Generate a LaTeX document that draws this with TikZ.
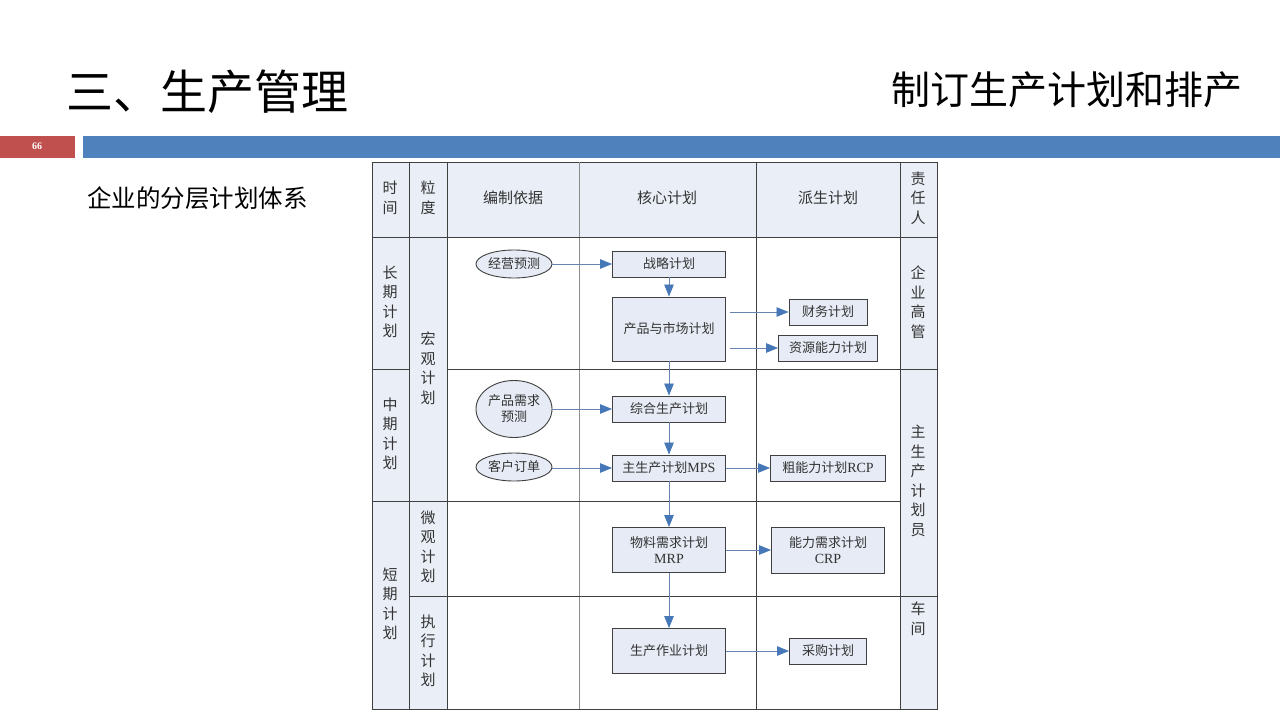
\documentclass[tikz,border=0pt]{standalone}
\usepackage{fontspec}
\setmainfont{Noto Sans CJK SC}
\newfontfamily\latin{Liberation Serif}
\usetikzlibrary{arrows.meta,shapes.geometric}
\definecolor{slidered}{RGB}{192,80,77}
\definecolor{slideblue}{RGB}{79,129,189}
\definecolor{cellfill}{RGB}{234,239,247}
\definecolor{boxfill}{RGB}{230,235,245}
\definecolor{flowline}{RGB}{104,132,176}
\definecolor{flowtip}{RGB}{70,120,184}
\definecolor{gridgray}{RGB}{64,64,64}
\tikzset{
CELL/.style ={draw=none, fill=cellfill},
GRID/.style ={draw=gridgray, line width=0.9pt},
LABEL/.style ={text=black!80, align=center, inner sep=0pt, font=\fontsize{15}{19.5}\selectfont},
PLAN/.style ={draw=gridgray, fill=boxfill, line width=0.9pt, minimum width=113, minimum height=26,
	inner sep=0pt, text=black!80, align=center, font=\fontsize{13}{16}\selectfont},
GUESS/.style ={PLAN, ellipse, minimum width=76, minimum height=28},
FLOW/.style ={draw=flowline, line width=0.8pt, -{Triangle[length=12,width=9.5,color=flowtip]}},
}

\begin{document}
\begin{tikzpicture}[x=1pt,y=-1pt]
	\useasboundingbox (0,0) rectangle (1280,720);
	\fill[white] (0,0) rectangle (1280,720);
	%Slide head
	\node[anchor=west, inner sep=0pt, font=\fontsize{47}{50}\selectfont] (title) at (66,92) {三、生产管理};
	\node[anchor=east, inner sep=0pt, font=\fontsize{39}{42}\selectfont] (topic) at (1243,90) {制订生产计划和排产};
	\path[fill=slidered] (0,136) rectangle (75,158);
	\path[fill=slideblue] (83,136) rectangle (1280,158);
	\node[text=white, font=\latin\bfseries\fontsize{10}{12}\selectfont] (pageno) at (37,146) {66};
	\node[anchor=west, inner sep=0pt, font=\fontsize{24.5}{27}\selectfont] (subtitle) at (87,198) {企业的分层计划体系};
	%Table
	\path[CELL] (372,162) rectangle (937,237);
	\path[CELL] (372,237) rectangle (447,709);
	\path[CELL] (900,237) rectangle (937,709);
	\path[GRID] (372,162) rectangle (937,709);
	\foreach \x in {409,447,756,900}
		\path[GRID] (\x,162) -- (\x,709);
	\path[draw=black!45, line width=0.9pt] (579,162) -- (579,709);
	\path[GRID] (372,237) -- (937,237);
	\path[GRID] (372,369) -- (409,369) (447,369) -- (937,369);
	\path[GRID] (372,501) -- (900,501);
	\path[GRID] (409,596) -- (937,596);
	%Heads
	\node[LABEL] (hTime) at (390,198) {时\\间};
	\node[LABEL] (hGrain) at (428,198) {粒\\度};
	\node[LABEL] (hBasis) at (513,198) {编制依据};
	\node[LABEL] (hCore) at (667,198) {核心计划};
	\node[LABEL] (hDerived) at (828,198) {派生计划};
	\node[LABEL] (hOwner) at (918,198) {责\\任\\人};
	\node[LABEL] (tLong) at (390,302) {长\\期\\计\\划};
	\node[LABEL] (tMid) at (390,434) {中\\期\\计\\划};
	\node[LABEL] (tShort) at (390,604) {短\\期\\计\\划};
	\node[LABEL] (gMacro) at (428,368) {宏\\观\\计\\划};
	\node[LABEL] (gMicro) at (428,547) {微\\观\\计\\划};
	\node[LABEL] (gExec) at (428,651) {执\\行\\计\\划};
	\node[LABEL] (oBoss) at (918,302) {企\\业\\高\\管};
	\node[LABEL] (oPlanner) at (918,481) {主\\生\\产\\计\\划\\员};
	\node[LABEL] (oShop) at (918,619) {车\\间};
	%Plans
	\node[GUESS] (bizFc) at (514,264) {经营预测};
	\node[GUESS, minimum height=57] (demFc) at (514,409) {产品需求\\预测};
	\node[GUESS] (orders) at (514,467) {客户订单};
	\node[PLAN] (strat) at (669,264) {战略计划};
	\node[PLAN, minimum height=64] (prodMkt) at (669,329) {产品与市场计划};
	\node[PLAN] (aggr) at (669,409) {综合生产计划};
	\node[PLAN] (mps) at (669,468) {主生产计划{\latin\fontsize{14}{16}\selectfont MPS}};
	\node[PLAN, minimum height=45] (mrp) at (669,550) {物料需求计划\\{\latin\fontsize{14}{16}\selectfont MRP}};
	\node[PLAN, minimum height=45] (prodOp) at (669,651) {生产作业计划};
	\node[PLAN, minimum width=78] (finance) at (828,312) {财务计划};
	\node[PLAN, minimum width=99] (resCap) at (828,348) {资源能力计划};
	\node[PLAN, minimum width=115] (rcp) at (828,468) {粗能力计划{\latin\fontsize{14}{16}\selectfont RCP}};
	\node[PLAN, minimum height=46] (crp) at (828,550) {能力需求计划\\{\latin\fontsize{14}{16}\selectfont CRP}};
	\node[PLAN, minimum width=77] (purch) at (828,651) {采购计划};
	%Flows
	\path[FLOW] (bizFc) -- (strat);
	\path[FLOW] (demFc) -- (aggr);
	\path[FLOW] (orders.east |- mps) -- (mps);
	\path[FLOW] (strat) -- (prodMkt);
	\path[FLOW] (prodMkt) -- (aggr);
	\path[FLOW] (aggr) -- (mps);
	\path[FLOW] (mps) -- (mrp);
	\path[FLOW] (mrp) -- (prodOp);
	\path[FLOW, shorten <=4pt] (prodMkt.east |- finance) -- (finance);
	\path[FLOW, shorten <=4pt] (prodMkt.east |- resCap) -- (resCap);
	\path[FLOW] (mps) -- (rcp);
	\path[FLOW] (mrp) -- (crp);
	\path[FLOW] (prodOp) -- (purch);
\end{tikzpicture}
\end{document}
